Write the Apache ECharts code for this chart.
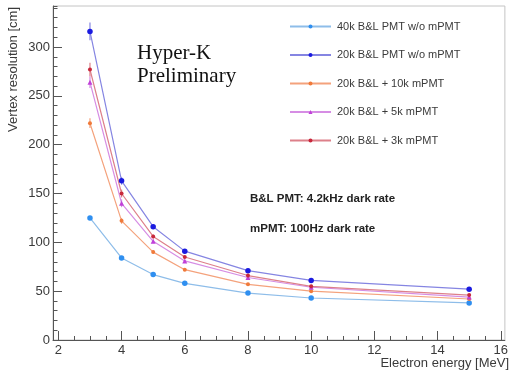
<!DOCTYPE html>
<html>
<head>
<meta charset="utf-8">
<script src="https://cdn.jsdelivr.net/npm/echarts@6/dist/echarts.min.js"></script>
<style>
  html, body { margin: 0; padding: 0; background: #fff; }
  #chart { width: 511px; height: 372px; }
</style>
</head>
<body>
<div id="chart"></div>
<script>
// electron energy [MeV]
var energy = [3, 4, 5, 6, 8, 10, 15];

var names = [
    '40k B&L PMT w/o mPMT',
    '20k B&L PMT w/o mPMT',
    '20k B&L + 10k mPMT',
    '20k B&L + 5k mPMT',
    '20k B&L + 3k mPMT'
];

// vertex resolution [cm]
var res40k = [125, 84, 67, 58, 48, 43, 38];
var res20k = [316, 163, 116, 91, 71, 61, 52];
var res10k = [222, 122, 90, 72, 57, 50, 42];
var res5k = [264, 140, 101, 81, 64, 54, 44];
var res3k = [277, 150, 106, 85, 66, 55, 46];

// error bars (half length)
var err40k = [2, 1.5, 1, 1, 1, 1, 1];
var err20k = [9, 4, 2, 1.5, 1, 1, 1];
var err10k = [5, 3, 2, 1, 1, 1, 1];
var err5k = [6, 4, 2, 1, 1, 1, 1];
var err3k = [7, 4, 2, 1, 1, 1, 1];

var xTicks = [2, 4, 6, 8, 10, 12, 14, 16];
var yTicks = [0, 50, 100, 150, 200, 250, 300];

var markerColors = ['#2f8ff0', '#1a1ae0', '#f07a3a', '#c040d8', '#c8283c'];
var lineColors = ['#8ebde9', '#8585e2', '#f4a27c', '#d68de4', '#dd808a'];
var symbols = ['circle', 'circle', 'circle', 'triangle', 'circle'];
var symbolSizes = [5.5, 5.5, 4, 5, 4];

var allRes = [res40k, res20k, res10k, res5k, res3k];
var allErr = [err40k, err20k, err10k, err5k, err3k];

var xMinor = [];
for (var t = 2; t <= 16; t += 0.5) xMinor.push(t);

var axisColor = '#555';
var labelColor = '#3a3a3a';
var sans = "'Liberation Sans', Arial, sans-serif";

var series = [];
names.forEach(function (name, k) {
    series.push({
        name: name,
        type: 'line',
        xAxisIndex: 0,
        yAxisIndex: 0,
        z: 3,
        symbol: symbols[k],
        symbolSize: symbolSizes[k],
        itemStyle: { color: markerColors[k] },
        lineStyle: { color: lineColors[k], width: 1.2 },
        data: energy.map(function (e, i) { return [e, allRes[k][i]]; })
    });
    series.push({
        name: name + ' err',
        type: 'custom',
        xAxisIndex: 0,
        yAxisIndex: 0,
        z: 2,
        silent: true,
        renderItem: function (params, api) {
            var x = api.value(0), y = api.value(1), e = api.value(2);
            var p1 = api.coord([x, y - e]);
            var p2 = api.coord([x, y + e]);
            return {
                type: 'line',
                shape: { x1: p1[0], y1: p1[1], x2: p2[0], y2: p2[1] },
                style: { stroke: lineColors[k], lineWidth: 1.2 }
            };
        },
        data: energy.map(function (e, i) { return [e, allRes[k][i], allErr[k][i]]; })
    });
});

var option = {
    backgroundColor: '#fff',
    animation: false,
    textStyle: { fontFamily: sans },
    grid: {
        left: 53,
        right: 1.5,
        top: 6,
        bottom: 32,
        show: true,
        borderColor: '#c4c4c4',
        borderWidth: 1
    },
    legend: {
        data: names,
        orient: 'vertical',
        left: 289,
        top: 20.5,
        itemWidth: 41,
        itemHeight: 5,
        itemGap: 16.5,
        padding: 0,
        textStyle: {
            fontFamily: sans,
            fontSize: 11,
            lineHeight: 12,
            color: '#3a3a3a',
            padding: [0, 0, 0, 1]
        }
    },
    xAxis: [
        {
            type: 'value',
            min: 1.83,
            max: 16.13,
            axisLine: { onZero: false, lineStyle: { color: axisColor, width: 1 } },
            axisTick: { inside: true, length: 4, customValues: xMinor, lineStyle: { color: axisColor } },
            axisLabel: {
                customValues: xTicks,
                margin: 4,
                fontSize: 13,
                color: labelColor,
                fontFamily: sans
            },
            splitLine: { show: false }
        },
        {
            type: 'value',
            position: 'bottom',
            min: 1.83,
            max: 16.13,
            axisLine: { show: false, onZero: false },
            axisTick: { inside: true, length: 9, customValues: xTicks, lineStyle: { color: axisColor } },
            axisLabel: { show: false },
            splitLine: { show: false }
        }
    ],
    yAxis: [
        {
            type: 'value',
            min: 0,
            max: 342,
            interval: 10,
            axisLine: { show: true, onZero: false, lineStyle: { color: axisColor, width: 1 } },
            axisTick: { show: true, inside: true, length: 4.5, lineStyle: { color: axisColor } },
            axisLabel: {
                customValues: yTicks,
                margin: 3,
                fontSize: 13,
                color: labelColor,
                fontFamily: sans
            },
            splitLine: { show: false }
        },
        {
            type: 'value',
            position: 'left',
            min: 0,
            max: 342,
            axisLine: { show: false, onZero: false },
            axisTick: { show: true, inside: true, length: 9, customValues: yTicks, lineStyle: { color: axisColor } },
            axisLabel: { show: false },
            splitLine: { show: false }
        }
    ],
    graphic: [
        {
            type: 'text',
            x: 13,
            y: 7,
            rotation: Math.PI / 2,
            style: {
                text: 'Vertex resolution [cm]',
                fontFamily: sans,
                fontSize: 13,
                fill: '#3a3a3a',
                align: 'right',
                verticalAlign: 'middle'
            }
        },
        {
            type: 'text',
            x: 509,
            y: 363,
            style: {
                text: 'Electron energy [MeV]',
                fontFamily: sans,
                fontSize: 13,
                fill: '#3a3a3a',
                align: 'right',
                verticalAlign: 'middle'
            }
        },
        {
            type: 'text',
            x: 137,
            y: 42,
            style: {
                text: 'Hyper-K\nPreliminary',
                fontFamily: "'Liberation Serif', 'Times New Roman', serif",
                fontSize: 21,
                lineHeight: 23,
                fill: '#111'
            }
        },
        {
            type: 'text',
            x: 250,
            y: 199,
            style: {
                text: 'B&L PMT: 4.2kHz dark rate',
                fontFamily: sans,
                fontSize: 11.5,
                fontWeight: 'bold',
                fill: '#222',
                verticalAlign: 'middle'
            }
        },
        {
            type: 'text',
            x: 250,
            y: 229,
            style: {
                text: 'mPMT: 100Hz dark rate',
                fontFamily: sans,
                fontSize: 11.5,
                fontWeight: 'bold',
                fill: '#222',
                verticalAlign: 'middle'
            }
        }
    ],
    series: series
};

var myChart = echarts.init(document.getElementById('chart'));
myChart.setOption(option);
</script>
</body>
</html>
